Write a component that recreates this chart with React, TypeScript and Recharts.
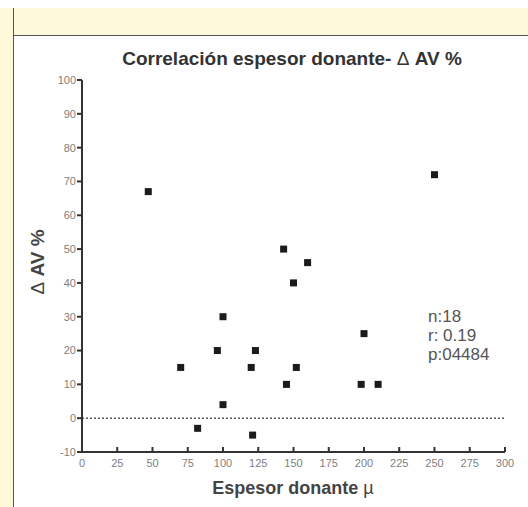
import React from 'react'
import {
  ScatterChart,
  Scatter,
  XAxis,
  YAxis,
  ReferenceLine,
} from 'recharts'

// Espesor donante (µ) vs Δ AV %
const espesor = [47, 70, 82, 96, 100, 100, 120, 121, 123, 143, 145, 150, 152, 160, 198, 200, 210, 250]
const deltaAV = [67, 15, -3, 20, 30, 4, 15, -5, 20, 50, 10, 40, 15, 46, 10, 25, 10, 72]

const xTicks = [0, 25, 50, 75, 100, 125, 150, 175, 200, 225, 250, 275, 300]
const yTicks = [-10, 0, 10, 20, 30, 40, 50, 60, 70, 80, 90, 100]

const stats = ['n:18', 'r: 0.19', 'p:04484']

const points = espesor.map((x, i) => ({ x, y: deltaAV[i] }))

const FONT = '"Liberation Sans", Arial, sans-serif'
const YELLOW = '#fef9d8'

// x ticks point up into the plot, label sits below the axis
const XTick = ({ x, y, payload }: any) => (
  <g>
    <line x1={x} y1={y} x2={x} y2={y - 5} stroke="#333" strokeWidth={2} />
    <text x={x} y={y + 15} textAnchor="middle" fill="#808080" fontSize={11} fontFamily={FONT}>
      {payload.value}
    </text>
  </g>
)

const SquareDot = ({ cx, cy }: any) => (
  <rect x={cx - 3.5} y={cy - 3.5} width={7} height={7} fill="#1b1b1b" />
)

const thin = { fontWeight: 'normal' as const }

const App = () => {
  return (
    <div style={{ position: 'relative', width: 528, height: 507, background: '#fff', overflow: 'hidden', fontFamily: FONT }}>
      <style>{'html,body{margin:0;padding:0;overflow:hidden;background:#fff}'}</style>
      {/* yellow frame: top band and left strip */}
      <div style={{ position: 'absolute', left: 0, top: 8, width: 528, height: 27, background: YELLOW, borderBottom: '1.5px solid #555' }} />
      <div style={{ position: 'absolute', left: 0, top: 8, width: 13, height: 499, background: YELLOW, borderRight: '1.5px solid #555' }} />

      <div
        style={{
          position: 'absolute',
          left: 92,
          top: 48,
          width: 400,
          textAlign: 'center',
          fontSize: 19,
          fontWeight: 'bold',
          color: '#333',
          whiteSpace: 'nowrap',
        }}
      >
        Correlación espesor donante- <span style={thin}>Δ</span> AV %
      </div>

      <div style={{ position: 'absolute', left: 0, top: 0 }}>
        <ScatterChart width={528} height={507} margin={{ top: 80, right: 23, bottom: 25, left: 42 }}>
          <XAxis
            type="number"
            dataKey="x"
            domain={[0, 300]}
            ticks={xTicks}
            interval={0}
            allowDataOverflow
            tickSize={0}
            tickMargin={0}
            tickLine={false}
            tick={<XTick />}
            axisLine={{ stroke: '#333', strokeWidth: 2 }}
            height={30}
          />
          <YAxis
            type="number"
            dataKey="y"
            domain={[-10, 100]}
            ticks={yTicks}
            interval={0}
            allowDataOverflow
            width={40}
            tickSize={5}
            tickMargin={1}
            tickLine={{ stroke: '#333', strokeWidth: 2 }}
            axisLine={{ stroke: '#333', strokeWidth: 2 }}
            tick={{ fill: '#808080', fontSize: 11, fontFamily: FONT }}
          />
          <ReferenceLine y={0} stroke="#555" strokeWidth={1.5} strokeDasharray="2 2" />
          <Scatter data={points} shape={<SquareDot />} isAnimationActive={false} />
        </ScatterChart>
      </div>

      {/* y axis title */}
      <div
        style={{
          position: 'absolute',
          left: 38,
          top: 262,
          transform: 'translate(-50%, -50%) rotate(-90deg)',
          whiteSpace: 'nowrap',
          fontSize: 19,
          fontWeight: 'bold',
          color: '#444',
        }}
      >
        <span style={thin}>Δ</span> AV %
      </div>

      {/* x axis title */}
      <div
        style={{
          position: 'absolute',
          left: 193,
          top: 478,
          width: 200,
          textAlign: 'center',
          fontSize: 18,
          fontWeight: 'bold',
          color: '#444',
          whiteSpace: 'nowrap',
        }}
      >
        Espesor donante <span style={thin}>µ</span>
      </div>

      <div style={{ position: 'absolute', left: 428, top: 307, fontSize: 17, lineHeight: '19px', color: '#555' }}>
        {stats.map((s) => (
          <div key={s}>{s}</div>
        ))}
      </div>
    </div>
  )
}

export default App
